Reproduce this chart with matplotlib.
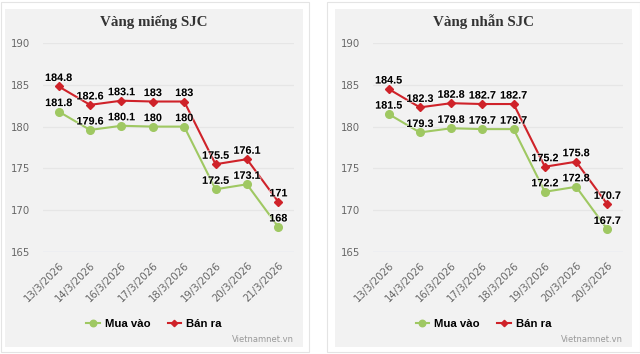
import matplotlib
matplotlib.use("Agg")
import matplotlib.pyplot as plt
from matplotlib.patches import Rectangle
import matplotlib.patheffects as pe

# ---- data ----
dates_left = ["13/3/2026", "14/3/2026", "16/3/2026", "17/3/2026", "18/3/2026",
              "19/3/2026", "20/3/2026", "21/3/2026"]
dates_right = ["13/3/2026", "14/3/2026", "16/3/2026", "17/3/2026", "18/3/2026",
               "19/3/2026", "20/3/2026", "20/3/2026"]
mieng_mua = [181.8, 179.6, 180.1, 180, 180, 172.5, 173.1, 168]
mieng_ban = [184.8, 182.6, 183.1, 183, 183, 175.5, 176.1, 171]
nhan_mua = [181.5, 179.3, 179.8, 179.7, 179.7, 172.2, 172.8, 167.7]
nhan_ban = [184.5, 182.3, 182.8, 182.7, 182.7, 175.2, 175.8, 170.7]
titles = ["Vàng miếng SJC", "Vàng nhẫn SJC"]
legend_labels = ["Mua vào", "Bán ra"]
y_ticks = [165, 170, 175, 180, 185, 190]

GREEN = "#9fc862"
RED = "#cf2229"
PANEL = "#f2f2f2"

W, H = 640, 354
fig = plt.figure(figsize=(W / 100, H / 100), dpi=100)
fig.patch.set_facecolor("white")


def fx(x):
    return x / W


def fy(y):
    return 1 - y / H


def rect_px(x0, y0, x1, y1, **kw):
    r = Rectangle((fx(x0), fy(y1)), fx(x1) - fx(x0), fy(y0) - fy(y1),
                  transform=fig.transFigure, **kw)
    fig.patches.append(r)


panels = [
    dict(card=(0.5, 2, 309, 352), gray=(5, 9, 303, 347), plot=(43, 43, 294, 252),
         title=titles[0], dates=dates_left, mua=mieng_mua, ban=mieng_ban),
    dict(card=(327, 2, 639.5, 352), gray=(335, 9, 632, 347), plot=(373, 43, 623, 252),
         title=titles[1], dates=dates_right, mua=nhan_mua, ban=nhan_ban),
]

label_fx = [pe.withStroke(linewidth=1.5, foreground="white", alpha=0.5)]

for p in panels:
    rect_px(*p["card"], facecolor="white", edgecolor="#e4e4e4", linewidth=0.8, zorder=0)
    rect_px(*p["gray"], facecolor=PANEL, edgecolor="none", zorder=0.5)
    x0, y0, x1, y1 = p["plot"]
    ax = fig.add_axes([fx(x0), fy(y1), fx(x1) - fx(x0), fy(y0) - fy(y1)])
    ax.set_facecolor("none")
    ax.set_zorder(2)
    n = len(p["dates"])
    xs = list(range(n))
    ax.set_xlim(-0.5, n - 0.5)
    ax.set_ylim(165, 190)
    ax.set_yticks(y_ticks)
    for v in y_ticks:
        ax.axhline(v, color="#ccd6eb" if v == 165 else "#e6e6e6", lw=0.9, zorder=1)
    for s in ax.spines.values():
        s.set_visible(False)
    ax.tick_params(axis="both", length=0, colors="#666666", labelsize=7.3)
    ax.tick_params(axis="y", pad=9)
    ax.set_xticks(xs)
    ax.set_xticklabels(p["dates"], rotation=45, ha="right", va="top",
                       rotation_mode="anchor", color="#666666", fontsize=7.3)
    ax.tick_params(axis="x", pad=6)

    l1, = ax.plot(xs, p["mua"], color=GREEN, lw=1.5, marker="o", ms=5.5,
                  mec=GREEN, zorder=3, clip_on=False)
    l2, = ax.plot(xs, p["ban"], color=RED, lw=1.5, marker="D", ms=3.8,
                  mec=RED, zorder=4, clip_on=False)
    for series in (p["mua"], p["ban"]):
        for xi, v in zip(xs, series):
            ax.annotate(f"{v:g}", (xi, v), xytext=(0, 2.5), textcoords="offset points",
                        ha="center", va="bottom", fontsize=7.8, fontweight="bold",
                        family="Liberation Sans", color="black",
                        path_effects=label_fx, zorder=5, annotation_clip=False)

    gx0, gy0, gx1, gy1 = p["gray"]
    fig.text(fx((gx0 + gx1) / 2), fy(22), p["title"], ha="center", va="center",
             fontsize=10.8, fontweight="bold", family="Liberation Serif", color="#333333")
    fig.legend([l1, l2], legend_labels, loc="center",
               bbox_to_anchor=(fx((gx0 + gx1) / 2), fy(324)), ncol=2, frameon=False,
               prop=dict(weight="bold", size=8.2, family="Liberation Sans"),
               handlelength=1.2, handletextpad=0.45,
               columnspacing=1.5, markerscale=0.85)
    fig.text(fx(x1), fy(340), "Vietnamnet.vn", ha="right", va="center",
             fontsize=6, color="#999999")

fig.savefig("out.png", dpi=100, facecolor="white")
